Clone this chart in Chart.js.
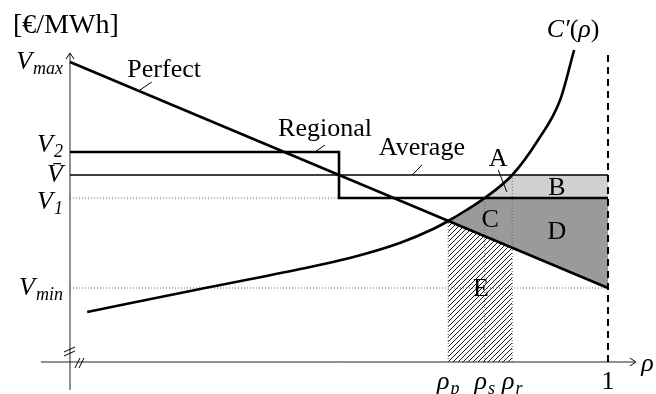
<!DOCTYPE html>
<html>
<head>
<meta charset="utf-8">
<script src="https://cdn.jsdelivr.net/npm/chart.js@4.4.1/dist/chart.umd.min.js"></script>
<style>
  html, body { margin: 0; padding: 0; background: #fff; }
  #wrap { width: 656px; height: 394px; }
</style>
</head>
<body>
<div id="wrap"><canvas id="chart" width="656" height="394"></canvas></div>
<script>
// price levels on the vertical axis
const levelNames  = ['V|max', 'V|2', 'V̄', 'V|1', 'V|min'];
const levelValues = [3.00, 2.10, 1.87, 1.64, 0.74];
const levelShift  = [0, -7, 0, 4, 0];   // px nudges of the tick labels

// shares on the horizontal axis
const rhoNames  = ['ρ|p', 'ρ|s', 'ρ|r', '1'];
const rhoValues = [0.703, 0.771, 0.822, 1];

// the curves
const perfectX  = [0, 1];
const perfectY  = [3.00, 0.74];
const regionalX = [0, 0.5, 0.5, 1];
const regionalY = [2.10, 2.10, 1.64, 1.64];
const averageX  = [0, 1];
const averageY  = [1.87, 1.87];
const costX = [0.032, 0.242, 0.428, 0.520, 0.613, 0.675, 0.703, 0.737, 0.771, 0.822, 0.870, 0.911, 0.937];
const costY = [0.50, 0.73, 0.93, 1.04, 1.19, 1.33, 1.41, 1.52, 1.64, 1.87, 2.22, 2.62, 3.12];

// shaded areas
const darkTopX   = [0.703, 0.737, 0.771, 1];
const darkTopY   = [1.41, 1.52, 1.64, 1.64];
const darkLowX   = [0.703, 1];
const darkLowY   = [1.41, 0.74];
const lightTopX  = [0.771, 0.797, 0.822, 1];
const lightTopY  = [1.64, 1.75, 1.87, 1.87];
const lightLowX  = [0.771, 1];
const lightLowY  = [1.64, 1.64];
const hatchX     = [0.703, 0.822];
const hatchY     = [1.41, 1.14];

const zip = (xs, ys) => xs.map((x, i) => ({x: x, y: ys[i]}));

// hatch pattern for area E
const tile = document.createElement('canvas');
tile.width = 5; tile.height = 5;
const tc = tile.getContext('2d');
tc.strokeStyle = '#000';
tc.lineWidth = 0.9;
tc.beginPath();
tc.moveTo(-1, 6); tc.lineTo(6, -1);
tc.moveTo(-1, 1); tc.lineTo(1, -1);
tc.moveTo(4, 6); tc.lineTo(6, 4);
tc.stroke();
const hatch = tc.createPattern(tile, 'repeat');

const line = (data, extra) => Object.assign({
  data: data, showLine: true, pointRadius: 0, borderColor: '#000',
  borderWidth: 2.6, fill: false, tension: 0
}, extra);

const dotted = {borderWidth: 1, borderColor: '#666', borderDash: [1, 2]};

const datasets = [
  line(zip(perfectX, perfectY)),
  line(zip(regionalX, regionalY)),
  line(zip(averageX, averageY), {borderWidth: 1.3}),
  line(zip(costX, costY), {cubicInterpolationMode: 'monotone'}),
  line([{x: 1, y: 0}, {x: 1, y: 3.12}], {borderWidth: 2, borderDash: [7, 5]}),
  // axes
  line([{x: -0.054, y: 0}, {x: 1.050, y: 0}], {borderWidth: 1, borderColor: '#222'}),
  line([{x: 0, y: -0.28}, {x: 0, y: 3.08}], {borderWidth: 1, borderColor: '#222'}),
  // guides
  line([{x: 0, y: levelValues[3]}, {x: 0.5, y: levelValues[3]}], dotted),
  line([{x: 0, y: levelValues[4]}, {x: 1, y: levelValues[4]}], dotted),
  line([{x: rhoValues[0], y: 0}, {x: rhoValues[0], y: 1.41}], dotted),
  line([{x: rhoValues[1], y: 0}, {x: rhoValues[1], y: 1.64}], dotted),
  line([{x: rhoValues[2], y: 0}, {x: rhoValues[2], y: 1.87}], dotted),
  // areas
  line(zip(hatchX, hatchY), {borderWidth: 0, fill: 'origin', backgroundColor: hatch}),
  line(zip(darkTopX, darkTopY), {borderWidth: 0, fill: '+1', backgroundColor: '#9a9a9a', cubicInterpolationMode: 'monotone'}),
  line(zip(darkLowX, darkLowY), {borderWidth: 0}),
  line(zip(lightTopX, lightTopY), {borderWidth: 0, fill: '+1', backgroundColor: '#d0d0d0'}),
  line(zip(lightLowX, lightLowY), {borderWidth: 0})
];

// text placed in data units
const labels = [
  {t: 'Perfect',  x: 0.175, y: 2.92, pin: [0.130, 2.72, 0.152, 2.80]},
  {t: 'Regional', x: 0.474, y: 2.33, pin: [0.455, 2.10, 0.474, 2.17]},
  {t: 'Average',  x: 0.654, y: 2.14, pin: [0.636, 1.87, 0.654, 1.97]},
  {t: 'A', x: 0.796, y: 2.03, pin: [0.796, 1.92, 0.812, 1.70]},
  {t: 'B', x: 0.905, y: 1.74},
  {t: 'C', x: 0.781, y: 1.42},
  {t: 'D', x: 0.905, y: 1.30},
  {t: 'E', x: 0.764, y: 0.73}
];

const SERIF = '"Liberation Serif", "DejaVu Serif", serif';
const BIG = 26, SMALL = 18;

// draw runs of text: {t, it, sub}
function runs(ctx, parts, x, y, align) {
  const fontOf = p => (p.it ? 'italic ' : '') + (p.sub ? SMALL : BIG) + 'px ' + SERIF;
  const widths = parts.map(p => { ctx.font = fontOf(p); return ctx.measureText(p.t).width + (p.sub ? 1 : 0); });
  const total = widths.reduce((a, b) => a + b, 0);
  let cx = x;
  if (align === 'right') cx = x - total;
  if (align === 'center') cx = x - total / 2;
  ctx.textAlign = 'left';
  ctx.textBaseline = 'middle';
  parts.forEach((p, i) => {
    ctx.font = fontOf(p);
    ctx.fillText(p.t, cx + (p.sub ? 1 : 0), y + (p.sub ? 7 : 0));
    cx += widths[i];
  });
}

function mathText(ctx, s, x, y, align) {
  const [main, sub] = s.split('|');
  const parts = [{t: main, it: true}];
  if (sub) parts.push({t: sub, it: true, sub: true});
  runs(ctx, parts, x, y, align);
}

const annotate = {
  id: 'annotate',
  afterDatasetsDraw(chart) {
    const ctx = chart.ctx;
    const sx = chart.scales.x, sy = chart.scales.y;
    const X = v => sx.getPixelForValue(v), Y = v => sy.getPixelForValue(v);
    ctx.save();
    ctx.fillStyle = '#000';
    ctx.strokeStyle = '#000';

    // arrow heads
    ctx.lineWidth = 1;
    ctx.beginPath();
    const ax = X(1.050), ay = Y(0);
    ctx.moveTo(ax - 5, ay - 4); ctx.lineTo(ax + 1, ay); ctx.lineTo(ax - 5, ay + 4);
    const bx = X(0), by = Y(3.08);
    ctx.moveTo(bx - 4, by + 5); ctx.lineTo(bx, by - 1); ctx.lineTo(bx + 4, by + 5);
    ctx.stroke();

    // axis break marks
    const ox = X(0), oy = Y(0);
    ctx.beginPath();
    ctx.moveTo(ox - 6, oy - 10); ctx.lineTo(ox + 5, oy - 15);
    ctx.moveTo(ox - 6, oy - 6); ctx.lineTo(ox + 5, oy - 11);
    ctx.moveTo(ox + 5, oy + 6); ctx.lineTo(ox + 10, oy - 4);
    ctx.moveTo(ox + 9, oy + 6); ctx.lineTo(ox + 14, oy - 4);
    ctx.stroke();

    // pins and labels
    ctx.font = BIG + 'px ' + SERIF;
    ctx.textAlign = 'center';
    ctx.textBaseline = 'middle';
    labels.forEach(l => {
      if (l.pin) {
        ctx.beginPath();
        ctx.moveTo(X(l.pin[0]), Y(l.pin[1]));
        ctx.lineTo(X(l.pin[2]), Y(l.pin[3]));
        ctx.stroke();
      }
      ctx.fillText(l.t, X(l.x), Y(l.y));
    });

    // unit label
    ctx.textAlign = 'left';
    ctx.font = '28px ' + SERIF;
    ctx.fillText('[€/MWh]', 13, 26);

    // cost curve label
    runs(ctx, [{t: 'C′', it: true}, {t: '('}, {t: 'ρ', it: true}, {t: ')'}], X(0.935), Y(3.32), 'center');

    // y tick labels
    levelNames.forEach((n, i) => mathText(ctx, n, X(0) - 7, Y(levelValues[i]) + levelShift[i], 'right'));

    // x tick labels
    rhoNames.forEach((n, i) => {
      if (n === '1') {
        runs(ctx, [{t: n}], X(rhoValues[i]), Y(-0.20), 'center');
      } else {
        mathText(ctx, n, X(rhoValues[i]), Y(-0.20), 'center');
      }
    });
    mathText(ctx, 'ρ', X(1.062), Y(-0.02), 'left');
    ctx.restore();
  }
};

new Chart(document.getElementById('chart'), {
  type: 'scatter',
  data: {datasets: datasets},
  options: {
    responsive: false,
    animation: false,
    layout: {padding: 0},
    plugins: {legend: {display: false}, tooltip: {enabled: false}},
    scales: {
      x: {type: 'linear', min: -0.1301, max: 1.0892, display: false},
      y: {type: 'linear', min: -0.32, max: 3.62, display: false}
    }
  },
  plugins: [annotate]
});
</script>
</body>
</html>
